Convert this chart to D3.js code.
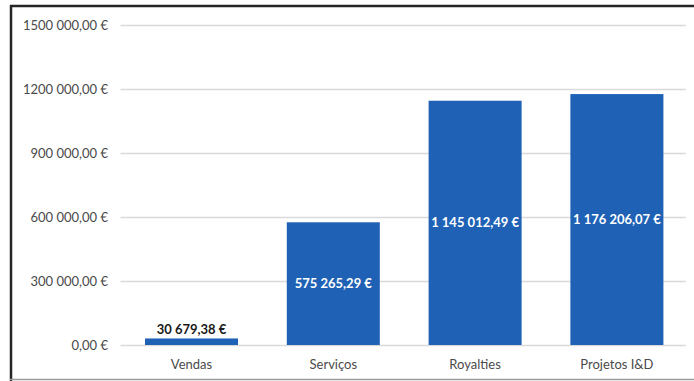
<!DOCTYPE html>
<html>
<head>
<meta charset="utf-8">
<script src="https://cdn.jsdelivr.net/npm/d3@7"></script>
<style>
  html, body { margin: 0; padding: 0; background: #fff; }
  svg { display: block; }
  text { font-family: Lato, "Open Sans", sans-serif; }
</style>
</head>
<body>
<svg id="chart" width="694" height="381"></svg>
<script>
// Receitas por origem (EUR)
const categories = ["Vendas", "Serviços", "Royalties", "Projetos I&D"];
const values = [30679.38, 575265.29, 1145012.49, 1176206.07];
const valueLabels = ["30 679,38 €", "575 265,29 €", "1 145 012,49 €", "1 176 206,07 €"];
const tickValues = [0, 300000, 600000, 900000, 1200000, 1500000];
const tickLabels = ["0,00 €", "300 000,00 €", "600 000,00 €", "900 000,00 €", "1200 000,00 €", "1500 000,00 €"];

const W = 694, H = 381;
const plot = { left: 120.6, right: 687.8, top: 25, bottom: 345 };
const barColor = "#1e61b5";

const svg = d3.select("#chart");

const x = d3.scaleBand()
  .domain(categories)
  .range([plot.left, plot.right])
  .paddingInner(0.344)
  .paddingOuter(0.172);

const y = d3.scaleLinear()
  .domain([0, 1500000])
  .range([plot.bottom, plot.top]);

// gridlines
svg.append("g")
  .selectAll("line")
  .data(tickValues)
  .join("line")
  .attr("x1", plot.left)
  .attr("x2", plot.right - 2)
  .attr("y1", d => Math.round(y(d)) + 0.5)
  .attr("y2", d => Math.round(y(d)) + 0.5)
  .attr("stroke", "#d9d9d9")
  .attr("stroke-width", 1.3);

// y axis labels
const yAxis = d3.axisLeft(y)
  .tickValues(tickValues)
  .tickFormat((d, i) => tickLabels[i])
  .tickSize(0)
  .tickPadding(0);
const gy = svg.append("g")
  .attr("transform", `translate(108,0)`)
  .call(yAxis);
gy.select(".domain").remove();
gy.selectAll("text")
  .attr("fill", "#4a4a4a")
  .style("font-size", "13px")
  .style("font-family", "Lato, sans-serif");

// x axis labels
const xAxis = d3.axisBottom(x).tickSize(0).tickPadding(0);
const gx = svg.append("g")
  .attr("transform", `translate(0,${plot.bottom + 15})`)
  .call(xAxis);
gx.select(".domain").remove();
gx.selectAll("text")
  .attr("fill", "#4a4a4a")
  .style("font-size", "13px")
  .style("font-family", "Lato, sans-serif");

// bars
svg.append("g")
  .selectAll("rect")
  .data(values)
  .join("rect")
  .attr("x", (d, i) => x(categories[i]))
  .attr("width", x.bandwidth())
  .attr("y", d => y(d))
  .attr("height", d => y(0) - y(d))
  .attr("fill", barColor);

// value labels: small bar gets its label above, others centred inside
svg.append("g")
  .selectAll("text")
  .data(values)
  .join("text")
  .attr("x", (d, i) => x(categories[i]) + x.bandwidth() / 2)
  .attr("y", d => (y(0) - y(d) < 40) ? y(d) - 9 : (y(d) + y(0)) / 2)
  .attr("dy", "0.35em")
  .attr("text-anchor", "middle")
  .attr("fill", d => (y(0) - y(d) < 40) ? "#1a1a1a" : "#ffffff")
  .style("font-size", "13px")
  .style("font-weight", "bold")
  .text((d, i) => valueLabels[i]);

// frame
svg.append("line").attr("x1", 10).attr("x2", W).attr("y1", 6).attr("y2", 6)
  .attr("stroke", "#262626").attr("stroke-width", 2.5);
svg.append("line").attr("x1", 11).attr("x2", 11).attr("y1", 5).attr("y2", H)
  .attr("stroke", "#262626").attr("stroke-width", 2.5);
svg.append("line").attr("x1", 10).attr("x2", W).attr("y1", 379.5).attr("y2", 379.5)
  .attr("stroke", "#9a9a9a").attr("stroke-width", 1.5);
</script>
</body>
</html>
